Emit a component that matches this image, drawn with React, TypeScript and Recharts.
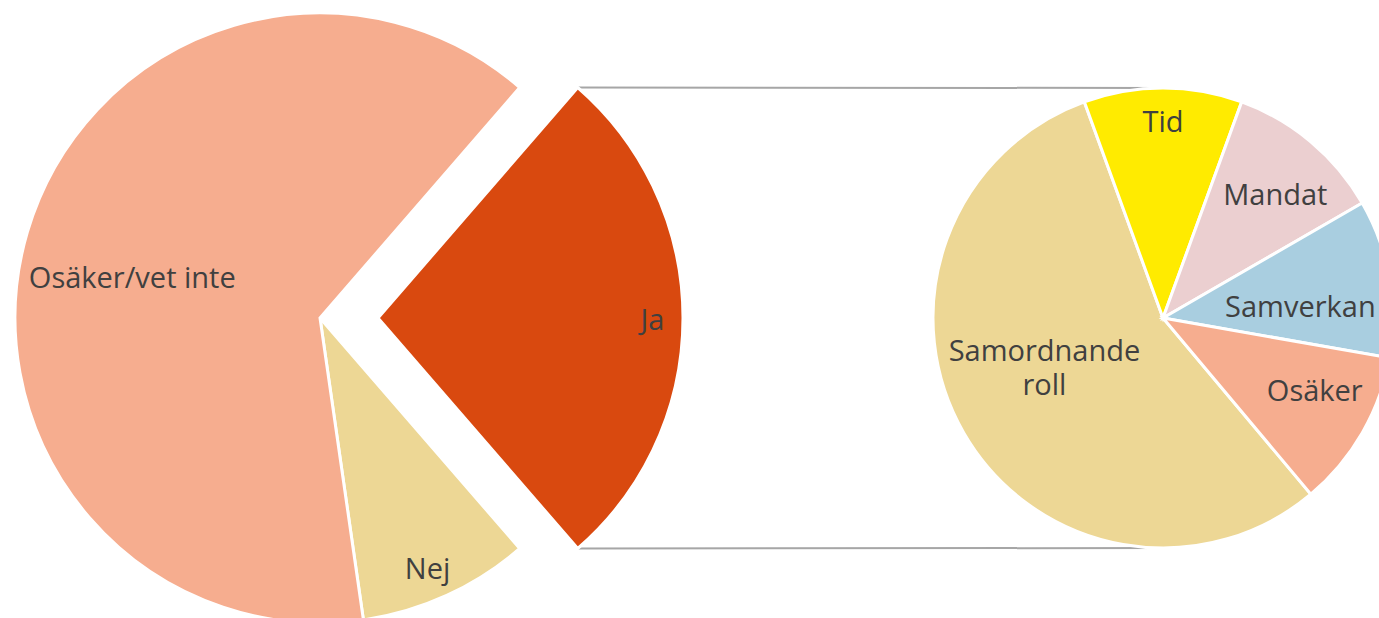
import React from "react"
import { Cell, Customized, Pie, PieChart, Sector } from "recharts"

// vänster cirkel (alla svar)
const huvudNamn = ["Ja", "Nej", "Osäker/vet inte"]
const huvudVarden = [9, 3, 21]
const huvudFarger = ["#D9490F", "#EDD795", "#F6AD8F"]

// höger cirkel (uppdelning av Ja)
const delNamn = ["Samordnande roll", "Tid", "Mandat", "Samverkan", "Osäker"]
const delVarden = [5, 1, 1, 1, 1]
const delFarger = ["#EDD795", "#FFEB00", "#EBCFD0", "#A9CEE0", "#F6AD8F"]

const huvudData = huvudNamn.map((namn, i) => ({ namn, varde: huvudVarden[i] }))
const delData = delNamn.map((namn, i) => ({ namn, varde: delVarden[i] }))

const W = 1379
const H = 618
const CX1 = 320
const CX2 = 1163
const CY = 318
const R1 = 305
const R2 = 230
const EXPLODE = 58
const JA_HALF = (huvudVarden[0] / huvudVarden.reduce((a, b) => a + b, 0)) * 180
const RAD = Math.PI / 180

// etikettens placering: andel av radien och vridning från mittvinkeln
const etikettPos: Record<string, [number, number]> = {
    "Ja": [0.9, 0],
    "Nej": [0.89, -1.2],
    "Osäker/vet inte": [0.63, 4],
    "Samordnande roll": [0.56, -7],
    "Tid": [0.86, 0],
    "Mandat": [0.73, -2],
    "Samverkan": [0.6, -4.6],
    "Osäker": [0.73, 4.7],
}

const textStil = { fontFamily: "'Open Sans', sans-serif", fontSize: 29, fill: "#404040" }

const Etikett = (props: any) => {
    const { cx, cy, midAngle, outerRadius, payload } = props
    const namn = payload.namn
    const [f, vrid] = etikettPos[namn] ?? [0.6, 0]
    const a = (midAngle + vrid) * RAD
    let x = cx + outerRadius * f * Math.cos(-a)
    const y = cy + outerRadius * f * Math.sin(-a)
    if (namn === "Ja") x += EXPLODE
    if (namn === "Samordnande roll") {
        return (
            <text x={x} y={y} textAnchor="middle" style={textStil}>
                <tspan x={x} dy={-7}>Samordnande</tspan>
                <tspan x={x} dy={34}>roll</tspan>
            </text>
        )
    }
    return (
        <text x={x} y={y} textAnchor="middle" dominantBaseline="central" style={textStil}>
            {namn}
        </text>
    )
}

const Skiva = (props: any) => {
    const dx = props.payload?.namn === "Ja" ? EXPLODE : 0
    return <Sector {...props} cx={props.cx + dx} />
}

const Linjer = () => {
    const x0 = CX1 + EXPLODE + R1 * Math.cos(JA_HALF * RAD)
    const dy = R1 * Math.sin(JA_HALF * RAD)
    return (
        <g>
            <line x1={x0} y1={CY - dy} x2={CX2} y2={CY - R2} stroke="#A6A6A6" strokeWidth={2} />
            <line x1={x0} y1={CY + dy} x2={CX2} y2={CY + R2} stroke="#A6A6A6" strokeWidth={2} />
        </g>
    )
}

const App = () => {
    return (
        <div style={{ position: "absolute", left: 0, top: 0, width: W, height: H, overflow: "hidden", background: "#fff" }}>
            <PieChart width={W} height={H} margin={{ top: 0, right: 0, bottom: 0, left: 0 }}>
                <Customized component={<Linjer />} />
                <Pie
                    data={huvudData}
                    dataKey="varde"
                    nameKey="namn"
                    cx={CX1}
                    cy={CY}
                    outerRadius={R1}
                    startAngle={JA_HALF}
                    endAngle={JA_HALF - 360}
                    stroke="#fff"
                    strokeWidth={3}
                    shape={Skiva}
                    label={Etikett}
                    labelLine={false}
                    isAnimationActive={false}
                >
                    {huvudFarger.map((c, i) => <Cell key={i} fill={c} />)}
                </Pie>
                <Pie
                    data={delData}
                    dataKey="varde"
                    nameKey="namn"
                    cx={CX2}
                    cy={CY}
                    outerRadius={R2}
                    startAngle={310}
                    endAngle={-50}
                    stroke="#fff"
                    strokeWidth={3}
                    label={Etikett}
                    labelLine={false}
                    isAnimationActive={false}
                >
                    {delFarger.map((c, i) => <Cell key={i} fill={c} />)}
                </Pie>
            </PieChart>
        </div>
    )
}

export default App
